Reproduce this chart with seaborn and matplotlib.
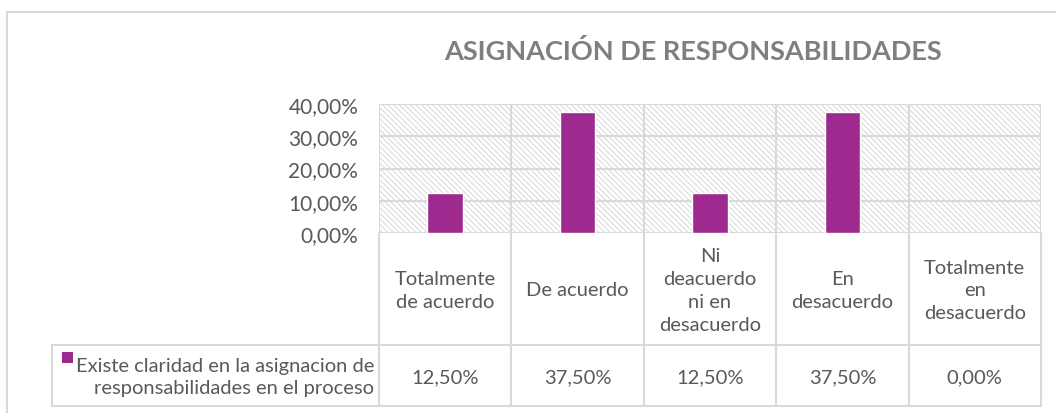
import numpy as np
import pandas as pd
import matplotlib
matplotlib.use("Agg")
import matplotlib.pyplot as plt
import seaborn as sns
from matplotlib.patches import Rectangle
from matplotlib.lines import Line2D
from matplotlib.ticker import FuncFormatter, MultipleLocator

# ---- data ----
categories = ["Totalmente\nde acuerdo", "De acuerdo", "Ni\ndeacuerdo\nni en\ndesacuerdo",
              "En\ndesacuerdo", "Totalmente\nen\ndesacuerdo"]
values = [12.5, 37.5, 12.5, 37.5, 0.0]
series_label = "Existe claridad en la asignacion de\nresponsabilidades en el proceso"
title = "ASIGNACIÓN DE RESPONSABILIDADES"

sns.set_theme(style="white")
plt.rcParams['font.family'] = ['Lato', 'DejaVu Sans']
plt.rcParams['hatch.linewidth'] = 0.6

W, H = 1056, 414
fig = plt.figure(figsize=(W / 100, H / 100), dpi=100)
fig.patch.set_facecolor("white")

def fx(px): return px / W
def fy(py): return 1 - py / H

L, R, T, B = 379, 1041, 105, 234
ax = fig.add_axes([fx(L), fy(B), fx(R - L), (B - T) / H])

grid_c = "#D9D9D9"
bar_c = "#9E2A8F"
txt_c = "#595959"

df = pd.DataFrame({"cat": categories, "val": values})
# hatched background
ax.add_patch(Rectangle((0, 0), 1, 1, transform=ax.transAxes, facecolor="white",
                       edgecolor="#D0D0D0", hatch="\\\\\\\\\\\\", linewidth=0, zorder=0))
sns.barplot(data=df, x="cat", y="val", color=bar_c, width=0.27, saturation=1,
            ax=ax, zorder=3)
ax.set_xlim(-0.5, len(categories) - 0.5)
ax.set_ylim(0, 40)
ax.yaxis.set_major_locator(MultipleLocator(10))
ax.yaxis.set_major_formatter(FuncFormatter(lambda v, p: f"{v:.2f}".replace(".", ",") + "%"))
ax.set_xticks([])
ax.set_xlabel("")
ax.set_ylabel("")
ax.tick_params(axis="y", length=0, labelsize=15, labelcolor=txt_c, pad=15)
for s in ax.spines.values():
    s.set_visible(False)
for yv in np.arange(0, 41, 10):
    ax.axhline(yv, color=grid_c, lw=1.5, zorder=1)
for i in range(len(categories) + 1):
    ax.axvline(i - 0.5, color=grid_c, lw=1.5, zorder=1)

# ---- data table ----
row1_bot, row2_bot = 346, 407
legend_left = 52
col_w = (R - L) / len(categories)
lines = []
lines.append(((L, B), (L, row2_bot)))
for i in range(1, len(categories) + 1):
    xb = L + i * col_w
    lines.append(((xb, B), (xb, row2_bot)))
lines.append(((legend_left, row1_bot), (R, row1_bot)))
lines.append(((legend_left, row2_bot), (R, row2_bot)))
lines.append(((legend_left, row1_bot), (legend_left, row2_bot)))
for (x0, y0), (x1, y1) in lines:
    fig.add_artist(Line2D([fx(x0), fx(x1)], [fy(y0), fy(y1)], color=grid_c, lw=1.5))

fs = 14.5
for i, (c, v) in enumerate(zip(categories, values)):
    cx = L + (i + 0.5) * col_w
    fig.text(fx(cx), fy((B + row1_bot) / 2 + 1), c, ha="center", va="center",
             fontsize=fs, color=txt_c, linespacing=1.42)
    fig.text(fx(cx), fy((row1_bot + row2_bot) / 2 + 1),
             f"{v:.2f}".replace(".", ",") + "%", ha="center", va="center",
             fontsize=fs, color=txt_c)

# legend cell
fig.add_artist(Rectangle((fx(62), fy(364)), fx(11), 11 / H, facecolor=bar_c,
                         edgecolor="none", transform=fig.transFigure))
fig.text(fx(374), fy((row1_bot + row2_bot) / 2 + 1), series_label, ha="right", va="center",
         fontsize=fs, color=txt_c, linespacing=1.38, multialignment="right")

# title
fig.text(fx(693), fy(51), title, ha="center", va="center", fontsize=19.5,
         fontweight="bold", color="#7F7F7F")

# outer chart border
fig.add_artist(Line2D([fx(7), fx(7)], [fy(13), fy(414)], color=grid_c, lw=1.5))
fig.add_artist(Line2D([fx(7), fx(1056)], [fy(13), fy(13)], color=grid_c, lw=1.5))

fig.savefig("out.png", dpi=100, facecolor="white")
